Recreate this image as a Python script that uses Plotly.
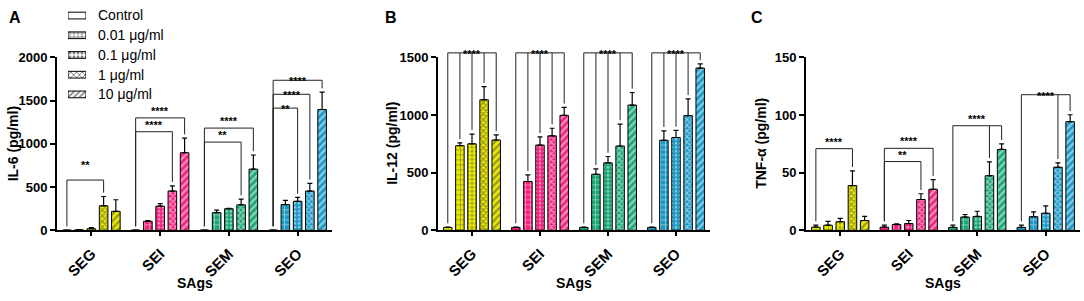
import plotly.graph_objects as go

W, H = 1084, 301

categories = ["SEG", "SEI", "SEM", "SEO"]
series_names = ["Control", "0.01 μg/ml", "0.1 μg/ml", "1 μg/ml", "10 μg/ml"]
group_colors = ["#e8e800", "#f5237f", "#1aa874", "#1b9ac6"]
series_patterns = ["", "+", ".", "x", "/"]
series_pattern_size = [8, 5, 4, 4, 5]
series_pattern_solidity = [0.3, 0.3, 0.35, 0.5, 0.45]

# rows = series (Control, 0.01, 0.1, 1, 10), cols = categories
il6_mean = [[2, 2, 2, 2], [5, 104, 204, 297], [18, 279, 249, 335],
            [283, 454, 294, 454], [219, 897, 707, 1397]]
il6_err = [[0, 0, 0, 0], [3, 8, 30, 49], [12, 29, 6, 45],
           [108, 60, 67, 89], [134, 168, 164, 200]]

il12_mean = [[25, 25, 25, 25], [734, 423, 486, 781], [750, 739, 585, 805],
             [1132, 819, 731, 995], [783, 997, 1086, 1407]]
il12_err = [[3, 3, 3, 3], [24, 58, 47, 82], [85, 71, 55, 61],
            [115, 66, 190, 145], [44, 69, 109, 36]]

tnf_mean = [[2.7, 2.7, 2.5, 2.5], [4.4, 5.0, 11.5, 11.8], [7.4, 5.8, 12.0, 14.8],
            [38.8, 26.7, 47.3, 54.7], [8.5, 35.6, 70.1, 94.2]]
tnf_err = [[1.8, 1.8, 2.0, 2.0], [3.3, 0.5, 2.2, 4.1], [3.0, 2.7, 4.5, 6.3],
           [12.8, 5.0, 12.1, 3.8], [3.5, 8.3, 4.9, 6.0]]

# brackets: (category index, series legs, bracket height, label)
il6_brackets = [(0, [0, 3], 581, "**"),
                (1, [0, 3], 1140, "****"), (1, [0, 4], 1300, "****"),
                (2, [0, 3], 1020, "**"), (2, [0, 4], 1182, "****"),
                (3, [0, 2], 1413, "**"), (3, [0, 3], 1573, "****"), (3, [0, 4], 1735, "****")]
il12_brackets = [(0, [0, 1, 2, 3, 4], 1539, "****"), (1, [0, 1, 2, 3, 4], 1539, "****"),
                 (2, [0, 1, 2, 3, 4], 1539, "****"), (3, [0, 1, 2, 3, 4], 1539, "****")]
tnf_brackets = [(0, [0, 3], 70.8, "****"),
                (1, [0, 3], 59.6, "**"), (1, [0, 4], 71.1, "****"),
                (2, [0, 3, 4], 90.7, "****"),
                (3, [0, 3, 4], 117.6, "****")]

il6_ticks = [0, 500, 1000, 1500, 2000]
il12_ticks = [0, 500, 1000, 1500]
tnf_ticks = [0, 50, 100, 150]

panels = [
    dict(mean=il6_mean, err=il6_err, br=il6_brackets, ticks=il6_ticks, ymax=2000,
         x0=57, x1=332, title="IL-6 (pg/ml)", tx=12.5, letter="A", lx=15),
    dict(mean=il12_mean, err=il12_err, br=il12_brackets, ticks=il12_ticks, ymax=1500,
         x0=438, x1=710, title="IL-12 (pg/ml)", tx=392, letter="B", lx=391),
    dict(mean=tnf_mean, err=tnf_err, br=tnf_brackets, ticks=tnf_ticks, ymax=150,
         x0=806, x1=1080, title="TNF-α (pg/ml)", tx=761, letter="C", lx=757),
]

Y_TOP, Y_BOT = 53, 235
OFFS = [-0.356, -0.178, 0.0, 0.178, 0.356]
BAR_W = 0.125
FONT = "Arial, Liberation Sans, sans-serif"

fig = go.Figure()
annotations = []
shapes = []

for pi, p in enumerate(panels):
    sfx = "" if pi == 0 else str(pi + 1)
    xa, ya = "x" + sfx, "y" + sfx
    yd = ya + " domain"
    ymax = p["ymax"]
    for si in range(5):
        xs = [ci + OFFS[si] for ci in range(len(categories))]
        fig.add_trace(go.Bar(
            x=xs, y=p["mean"][si], width=BAR_W, xaxis=xa, yaxis=ya,
            showlegend=False, name=series_names[si],
            marker=dict(color=group_colors, line=dict(color="black", width=1),
                        pattern=dict(shape=series_patterns[si], fgcolor="black",
                                     fillmode="overlay",
                                     size=series_pattern_size[si],
                                     solidity=series_pattern_solidity[si])),
            error_y=dict(type="data", array=p["err"][si], arrayminus=[0] * 4,
                         symmetric=False, color="black", thickness=1.2, width=2.5),
        ))
    gap = 0.022 * ymax
    line_style = dict(color="#222", width=1)
    for (ci, legs, h, lab) in p["br"]:
        xl = [ci + OFFS[s] for s in legs]
        shapes.append(dict(type="line", xref=xa, yref=yd, x0=xl[0], x1=xl[-1],
                           y0=h / ymax, y1=h / ymax, line=line_style))
        for s, xv in zip(legs, xl):
            bottom = p["mean"][s][ci] + p["err"][s][ci] + gap
            shapes.append(dict(type="line", xref=xa, yref=yd, x0=xv, x1=xv,
                               y0=h / ymax, y1=bottom / ymax, line=line_style))
        annotations.append(dict(x=(xl[0] + xl[-1]) / 2, y=h / ymax, xref=xa, yref=yd,
                                text=lab, showarrow=False, yshift=7,
                                font=dict(family=FONT, size=11, color="black", weight="bold")))
    axis_x = dict(domain=[p["x0"] / W, p["x1"] / W], range=[-0.5, 3.5],
                  tickvals=list(range(len(categories))), ticktext=categories,
                  tickangle=-45, showline=True, linecolor="black", linewidth=2,
                  ticks="outside", ticklen=4, tickwidth=2, tickcolor="black",
                  ticklabelstandoff=3,
                  showgrid=False, zeroline=False, anchor=ya,
                  tickfont=dict(family=FONT, size=15, color="black", weight="bold"))
    axis_y = dict(domain=[1 - Y_BOT / H, 1 - Y_TOP / H], range=[0, ymax],
                  tickvals=p["ticks"], showline=True, linecolor="black", linewidth=2,
                  ticks="outside", ticklen=5, tickwidth=2, tickcolor="black",
                  showgrid=False, zeroline=False, anchor=xa,
                  tickfont=dict(family=FONT, size=13, color="black", weight="bold"))
    fig.update_layout({"xaxis" + sfx: axis_x, "yaxis" + sfx: axis_y})
    annotations.append(dict(x=p["tx"] / W, y=1 - 144 / H, xref="paper", yref="paper",
                            text=p["title"], textangle=-90, showarrow=False,
                            xanchor="center", yanchor="middle",
                            font=dict(family=FONT, size=14, color="black", weight="bold")))
    annotations.append(dict(x=(p["x0"] + p["x1"]) / 2 / W, y=1 - 290 / H, xref="paper",
                            yref="paper", text="SAgs", showarrow=False,
                            xanchor="center", yanchor="middle",
                            font=dict(family=FONT, size=14, color="black", weight="bold")))
    annotations.append(dict(x=p["lx"] / W, y=1 - 11 / H, xref="paper", yref="paper",
                            text=p["letter"], showarrow=False, xanchor="center",
                            yanchor="middle",
                            font=dict(family=FONT, size=16, color="black", weight="bold")))

# legend drawn as swatch bars with labels on a small auxiliary axis
fig.add_trace(go.Bar(
    y=series_names, x=[1] * len(series_names), orientation="h", width=0.34,
    xaxis="x4", yaxis="y4", showlegend=False, hoverinfo="skip",
    marker=dict(color="white", line=dict(color="black", width=1),
                pattern=dict(shape=series_patterns, fgcolor="black", fillmode="overlay",
                             size=4, solidity=0.4)),
))
fig.update_layout(
    xaxis4=dict(domain=[68 / W, 86 / W], range=[0, 1], visible=False, anchor="y4"),
    yaxis4=dict(domain=[1 - 102 / H, 1], range=[4.482, -0.434], anchor="x4",
                side="right", showline=False, ticks="", showgrid=False, zeroline=False,
                categoryorder="array", categoryarray=series_names,
                ticklabelstandoff=11,
                tickfont=dict(family=FONT, size=14, color="black")),
)

fig.update_layout(width=W, height=H, margin=dict(l=0, r=0, t=0, b=0),
                  paper_bgcolor="white", plot_bgcolor="white", barmode="overlay",
                  annotations=annotations, shapes=shapes, showlegend=False)

fig.write_html("out.html", config={"displayModeBar": False},
               post_script="document.body.style.margin='0';document.body.style.overflow='hidden';")
